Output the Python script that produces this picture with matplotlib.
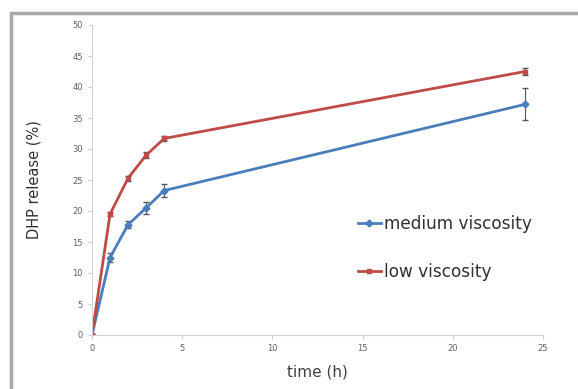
import matplotlib.pyplot as plt
from matplotlib.patches import Rectangle
from matplotlib.lines import Line2D

# data
time_h = [0, 1, 2, 3, 4, 24]
medium = [0, 12.5, 17.8, 20.5, 23.3, 37.2]
medium_err = [0, 0.8, 0.6, 1.0, 1.0, 2.6]
low = [0, 19.5, 25.3, 29.0, 31.7, 42.5]
low_err = [0, 0.3, 0.4, 0.5, 0.4, 0.5]

fig = plt.figure(figsize=(5.78, 3.89), dpi=100)
ax = fig.add_axes([92 / 578, 1 - 335 / 389, (543 - 92) / 578, (335 - 25) / 389])

# outer chart frame
fig.add_artist(Rectangle((11 / 578, -0.01), 1, 1 - 13 / 389 + 0.01, transform=fig.transFigure,
                         fill=False, edgecolor='#a8a8a8', linewidth=2.5))

blue = '#4a7ebb'
red = '#be4b48'
ax.errorbar(time_h, medium, yerr=medium_err, color=blue, marker='D', markersize=3.5,
            linewidth=2, ecolor='#555555', elinewidth=0.8, capsize=2)
ax.errorbar(time_h, low, yerr=low_err, color=red, marker='s', markersize=3.5,
            linewidth=2, ecolor='#555555', elinewidth=0.8, capsize=2)

ax.set_xlim(0, 25)
ax.set_ylim(0, 50)
ax.set_xticks(range(0, 26, 5))
ax.set_yticks(range(0, 51, 5))
for s in ['top', 'right']:
    ax.spines[s].set_visible(False)
for s in ['left', 'bottom']:
    ax.spines[s].set_color('#d0d0d0')
ax.tick_params(labelsize=6, colors='#d0d0d0', labelcolor='#606060', length=3, direction='out')

ax.set_xlabel('time (h)', fontsize=11, color='#404040', labelpad=8)
ax.set_ylabel('DHP release (%)', fontsize=10.5, color='#303030', labelpad=22)

handles = [Line2D([], [], color=blue, marker='D', markersize=3.5, linewidth=2),
           Line2D([], [], color=red, marker='s', markersize=3.5, linewidth=2)]
ax.legend(handles, ['medium viscosity', 'low viscosity'], loc='upper left',
          bbox_to_anchor=(0.555, 0.435), frameon=False, fontsize=12.2,
          handlelength=1.4, handletextpad=0.15, labelspacing=1.75, labelcolor='#303030')

fig.savefig('out.png', dpi=100)
